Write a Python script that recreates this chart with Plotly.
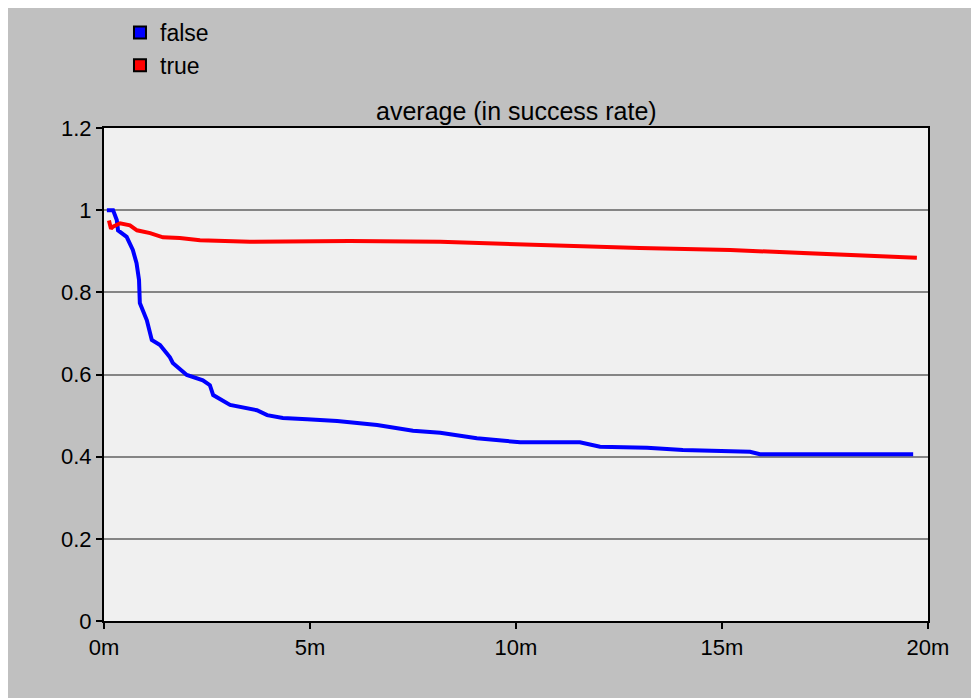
import plotly.graph_objects as go

# ---- data (time in minutes) ----
false_t = [0.07, 0.22, 0.31, 0.34, 0.55, 0.70, 0.79, 0.85, 0.87, 1.04, 1.16, 1.36,
           1.60, 1.67, 2.01, 2.40, 2.57, 2.65, 3.06, 3.71, 3.96, 4.34, 4.93, 5.66,
           6.63, 7.50, 8.16, 9.05, 10.10, 11.55, 12.04, 13.18, 14.05, 15.68, 15.92,
           18.11, 19.64]
false_v = [1.0, 1.0, 0.976, 0.951, 0.935, 0.903, 0.871, 0.83, 0.774, 0.732, 0.684, 0.672,
           0.642, 0.628, 0.599, 0.586, 0.574, 0.55, 0.526, 0.513, 0.501, 0.494, 0.491, 0.487,
           0.477, 0.463, 0.458, 0.445, 0.435, 0.435, 0.424, 0.422, 0.416, 0.412, 0.406,
           0.406, 0.406]

true_t = [0.12, 0.17, 0.22, 0.39, 0.63, 0.80, 1.12, 1.43, 1.84, 2.33, 3.54, 5.97,
          8.16, 10.58, 13.0, 15.2, 17.6, 19.73]
true_v = [0.975, 0.955, 0.96, 0.968, 0.963, 0.951, 0.944, 0.934, 0.932, 0.927, 0.923, 0.925,
          0.923, 0.915, 0.908, 0.903, 0.893, 0.884]

x_tickvals = [0, 5, 10, 15, 20]
x_ticktext = ["0m", "5m", "10m", "15m", "20m"]
y_tickvals = [0, 0.2, 0.4, 0.6, 0.8, 1.0, 1.2]
y_ticktext = ["0", "0.2", "0.4", "0.6", "0.8", "1", "1.2"]

series_names = ["false", "true"]
series_colors = ["#0000ff", "#ff0000"]

FONT = "Liberation Sans"

fig = go.Figure()
fig.add_trace(go.Scatter(x=false_t, y=false_v, mode="lines", name="false",
                         line=dict(color=series_colors[0], width=4), showlegend=False))
fig.add_trace(go.Scatter(x=true_t, y=true_v, mode="lines", name="true",
                         line=dict(color=series_colors[1], width=4), showlegend=False))
# legend entries with square swatches
for name, col in zip(series_names, series_colors):
    fig.add_trace(go.Scatter(x=[None], y=[None], mode="markers", name=name,
                             marker=dict(symbol="square", size=14, color=col,
                                         line=dict(color="black", width=1.5))))

fig.update_layout(
    width=979, height=698,
    paper_bgcolor="#c0c0c0", plot_bgcolor="#f0f0f0",
    margin=dict(l=96, r=59, t=120, b=85, autoexpand=False),
    font=dict(family=FONT, size=21, color="black"),
    showlegend=True,
    legend=dict(x=0.0194, y=1.2373, xanchor="left", yanchor="top",
                bgcolor="rgba(0,0,0,0)", font=dict(size=23),
                tracegroupgap=0, itemsizing="constant"),
    annotations=[dict(text="average (in success rate)", x=0.5, y=1.0, xref="paper",
                      yref="paper", xanchor="center", yanchor="bottom", yshift=1,
                      showarrow=False, font=dict(size=25, family=FONT))],
)
fig.update_xaxes(range=[0, 20], tickvals=x_tickvals, ticktext=x_ticktext,
                 showgrid=False, zeroline=False, showline=True, linecolor="black",
                 linewidth=2, mirror=True, ticks="outside", ticklen=6, tickwidth=2,
                 tickcolor="black", tickfont=dict(size=22))
fig.update_yaxes(range=[0, 1.2], tickvals=y_tickvals, ticktext=y_ticktext,
                 showgrid=True, gridcolor="#858585", gridwidth=2, zeroline=False,
                 showline=True, linecolor="black", linewidth=2, mirror=True,
                 ticks="outside", ticklen=6, tickwidth=2, tickcolor="black",
                 tickfont=dict(size=22))

fig.write_html("out.html")
